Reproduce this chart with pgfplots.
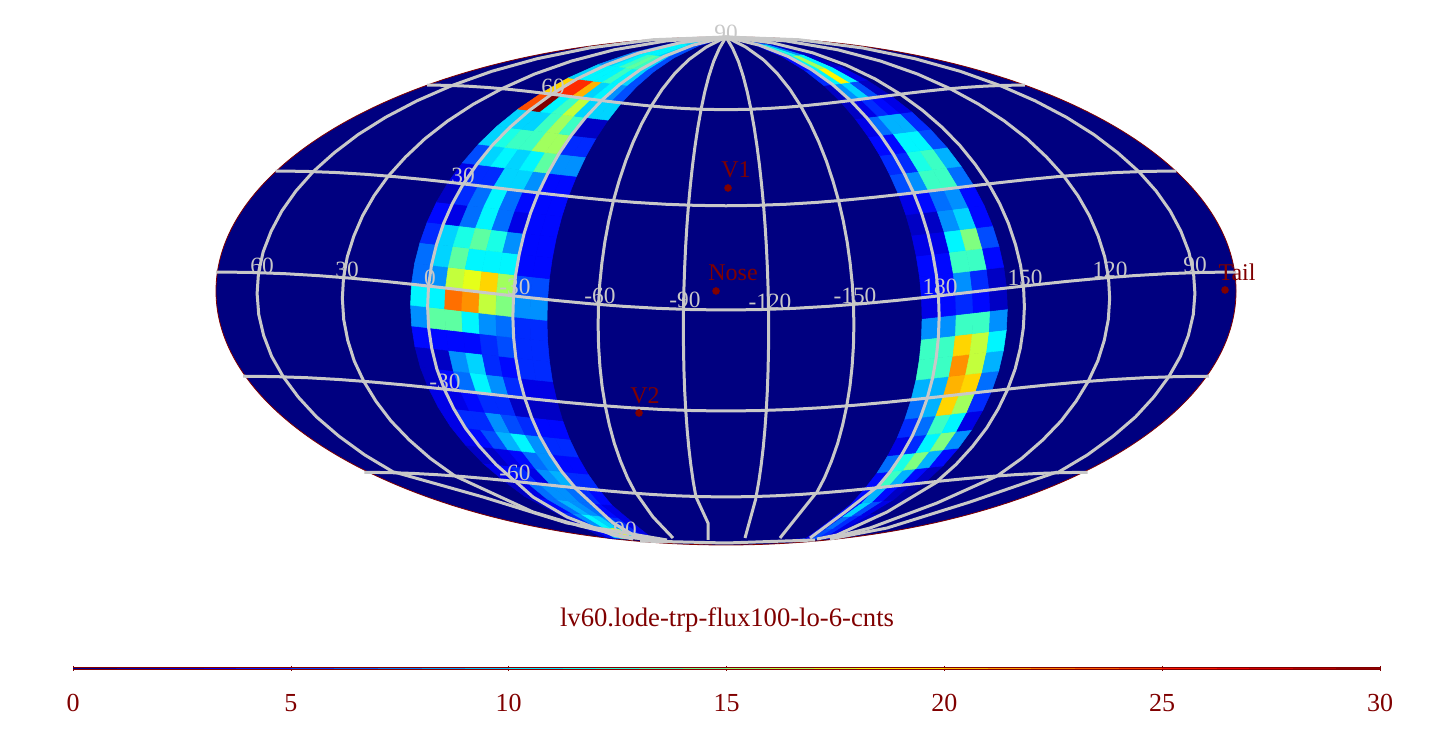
\documentclass[border=0pt]{standalone}
\usepackage{fontspec}
\setmainfont{Liberation Serif}
\usepackage{pgfplots}
\pgfplotsset{compat=1.18}
\usepackage{pgfplotstable}
\definecolor{navy}{RGB}{0,0,128}
\definecolor{dred}{RGB}{128,0,0}
\definecolor{gridc}{RGB}{200,200,200}
% projected latitude per 6 deg row, -90 to 90
\foreach \v [count=\i from 0] in {-.976,-.97233,-.9303,-.88015,-.82395,-.76231,-.697,-.62779,-.55565,-.48085,-.40397,-.32523,-.24516,-.16403,-.08219,0,.08219,.16403,.24516,.32523,.40397,.48085,.55565,.62779,.697,.76231,.82395,.88015,.9303,.97233,1}{\expandafter\xdef\csname sth\i\endcsname{\v}}
\foreach \v [count=\i from 0] in {0,.23362,.3668,.47471,.56668,.64721,.71707,.77837,.83141,.8768,.91477,.94564,.96948,.98645,.99662,1,.99662,.98645,.96948,.94564,.91477,.8768,.83141,.77837,.71707,.64721,.56668,.47471,.3668,.23362,0}{\expandafter\xdef\csname cth\i\endcsname{\v}}
\foreach \v [count=\i from 0] in {.36,.40,.47,.55,.64,.709,.773,.828,.876,.915,.947,.972,.989,.9995,1.003,1,.990,.973,.950,.920,.883,.838,.787,.728,.661,.586,.501,.404,.292,.156,0}{\expandafter\xdef\csname rth\i\endcsname{\v}}
\newcommand{\mapx}[2]{726+17*(#1)*(\csname rth#2\endcsname)}
\newcommand{\mapy}[2]{728-(291-254*(\csname sth#2\endcsname)+19*(\csname cth#2\endcsname)*cos(6*(#1)))}
\newcommand{\rowof}[1]{\the\numexpr(2*\coordindex-#1+1)/(2*#1)\relax}
\newcommand{\colof}[1]{\the\numexpr\coordindex-#1*((2*\coordindex-#1+1)/(2*#1))\relax}
\pgfplotstableread{
j lat
5 -60
6 -54
7 -48
8 -42
9 -36
10 -30
11 -24
12 -18
13 -12
14 -6
15 0
16 6
17 12
18 18
19 24
20 30
21 36
22 42
23 48
24 54
25 60
26 66
27 72
28 78
29 84
30 90
}\merrows
\pgfplotstableread{
k off
-30 -180
-28 -168
-26 -156
-24 -144
-22 -132
-20 -120
-18 -108
-16 -96
-14 -84
-12 -72
-10 -60
-8 -48
-6 -36
-4 -24
-2 -12
0 0
2 12
4 24
6 36
8 48
10 60
12 72
14 84
16 96
18 108
20 120
22 132
24 144
26 156
28 168
30 180
}\parrows
\newcommand{\meridian}[1]{\addplot[gridc,line width=2.25pt] table[x expr={\mapx{#1}{\the\numexpr\coordindex+5\relax}},y expr={\mapy{#1}{\the\numexpr\coordindex+5\relax}}] {\merrows};}
\newcommand{\parline}[1]{\addplot[gridc,line width=2.25pt] table[x expr={\mapx{\thisrow{k}}{#1}},y expr={\mapy{\thisrow{k}}{#1}}] {\parrows};}
\newcommand{\glab}[3]{\node[text=gridc,inner sep=0pt,font=\fontsize{17.5}{17.5}\selectfont] at (axis cs:#1,#2) {#3};}
\newcommand{\rlab}[3]{\node[text=dred,inner sep=0pt,font=\fontsize{18}{18}\selectfont] at (axis cs:#1,#2) {#3};}
\begin{document}
\begin{tikzpicture}
\useasboundingbox (0,0) rectangle (1089pt,546pt);
\begin{axis}[
    at={(0,0)},anchor=south west,
    width=1089pt,height=546pt,scale only axis,
    xmin=0,xmax=1452,ymin=0,ymax=728,
    hide axis,clip=false,
    colormap/jet,point meta min=0,point meta max=30,
]
\fill[navy] (axis cs:726,437) ellipse [x radius=510,y radius=254];
\draw[dred,line width=.6pt] (axis cs:726,437) ellipse [x radius=510,y radius=254];
% left band, 8 columns by 30 rows, south to north
\addplot[surf,shader=flat corner,mesh/cols=9,point meta=\thisrow{c}] table[row sep=\\,
    x expr={\mapx{-18.5+\colof{9}}{\rowof{9}}},
    y expr={\mapy{-18.5+\colof{9}}{\rowof{9}}}] {
c\\
2\\5\\12\\21\\21\\10\\5\\2\\0\\
2\\4\\10\\13\\18\\11\\5\\3\\0\\
2\\5\\8\\11\\10\\8\\5\\3\\0\\
2\\4\\7\\9\\8\\7\\4\\3\\0\\
2\\3\\7\\8\\8\\7\\5\\4\\0\\
3\\4\\5\\3\\8\\9\\5\\5\\0\\
2\\2\\3\\4\\7\\8\\4\\4\\0\\
3\\4\\6\\9\\11\\8\\5\\5\\0\\
3\\5\\5\\8\\6\\5\\4\\4\\0\\
3\\3\\4\\5\\5\\2\\2\\2\\0\\
2\\4\\7\\11\\8\\5\\3\\3\\0\\
2\\2\\8\\10\\5\\4\\5\\5\\0\\
4\\4\\4\\4\\5\\6\\5\\5\\0\\
8\\14\\14\\11\\8\\7\\5\\5\\0\\
11\\11\\23\\22\\17\\15\\8\\8\\0\\
7\\8\\17\\18\\20\\16\\6\\6\\0\\
7\\10\\14\\11\\11\\11\\4\\4\\0\\
5\\10\\12\\14\\12\\8\\4\\4\\0\\
4\\3\\7\\11\\7\\3\\4\\4\\0\\
2\\5\\7\\11\\7\\4\\4\\4\\0\\
3\\5\\5\\10\\10\\8\\4\\4\\0\\
6\\10\\11\\10\\11\\14\\8\\8\\0\\
10\\12\\13\\13\\16\\16\\5\\5\\0\\
10\\10\\10\\13\\16\\13\\2\\2\\0\\
24\\30\\11\\13\\17\\10\\10\\10\\0\\
20\\25\\25\\21\\10\\11\\8\\6\\0\\
10\\11\\11\\11\\13\\11\\10\\6\\0\\
8\\10\\11\\13\\14\\13\\10\\6\\0\\
7\\9\\11\\11\\11\\10\\8\\6\\0\\
6\\8\\9\\10\\10\\9\\8\\5\\0\\
0\\0\\0\\0\\0\\0\\0\\0\\0\\
};
% right band, 5 columns by 30 rows
\addplot[surf,shader=flat corner,mesh/cols=6,point meta=\thisrow{c}] table[row sep=\\,
    x expr={\mapx{11.5+\colof{6}}{\rowof{6}}},
    y expr={\mapy{11.5+\colof{6}}{\rowof{6}}}] {
c\\
3\\8\\10\\4\\2\\0\\
3\\6\\5\\3\\2\\0\\
3\\7\\5\\3\\2\\0\\
4\\10\\6\\3\\1\\0\\
4\\9\\4\\2\\1\\0\\
4\\13\\9\\4\\2\\0\\
7\\12\\15\\9\\4\\0\\
3\\5\\11\\15\\8\\0\\
5\\7\\13\\11\\3\\0\\
7\\9\\20\\16\\5\\0\\
9\\9\\21\\20\\7\\0\\
13\\13\\22\\17\\9\\0\\
13\\13\\20\\17\\11\\0\\
8\\8\\13\\13\\8\\0\\
3\\4\\5\\4\\2\\0\\
4\\4\\8\\5\\2\\0\\
4\\4\\13\\13\\4\\0\\
3\\3\\11\\15\\6\\0\\
2\\2\\8\\10\\4\\0\\
3\\4\\7\\8\\4\\0\\
6\\8\\13\\13\\7\\0\\
5\\5\\12\\13\\9\\0\\
4\\4\\11\\11\\6\\0\\
3\\7\\9\\9\\5\\0\\
2\\3\\5\\4\\3\\0\\
2\\8\\10\\6\\2\\0\\
5\\11\\19\\11\\3\\0\\
4\\11\\16\\11\\2\\0\\
3\\10\\12\\8\\2\\0\\
2\\8\\10\\6\\1\\0\\
0\\0\\0\\0\\0\\0\\
};
% meridians
\meridian{-27.5}\meridian{-22.5}\meridian{-17.5}\meridian{-12.5}\meridian{-7.5}\meridian{-2.5}
\meridian{2.5}\meridian{7.5}\meridian{12.5}\meridian{17.5}\meridian{22.5}\meridian{27.5}
% southern ends of the meridians, read off in pixels (y flipped)
\addplot[gridc,line width=2.25pt] coordinates {(394,256)(483,231)(567,205)(667,188)};
\addplot[gridc,line width=2.25pt] coordinates {(455,252)(533,216)(580,202)(627,191)(660,187)};
\addplot[gridc,line width=2.25pt] coordinates {(515,247)(533,231)(567,211)(613,193)(633,189)};
\addplot[gridc,line width=2.25pt] coordinates {(575,240)(613,205)(637,191)(653,190)};
\addplot[gridc,line width=2.25pt] coordinates {(636,235)(653,211)(673,190)};
\addplot[gridc,line width=2.25pt] coordinates {(696,231)(708,205)(708,188)};
\addplot[gridc,line width=2.25pt] coordinates {(756,230)(745,190)};
\addplot[gridc,line width=2.25pt] coordinates {(816,235)(800,215)(780,190)};
\addplot[gridc,line width=2.25pt] coordinates {(877,241)(845,216)(810,190)};
\addplot[gridc,line width=2.25pt] coordinates {(937,246)(887,216)(837,193)(817,189)};
\addplot[gridc,line width=2.25pt] coordinates {(997,252)(937,225)(870,200)(830,190)};
\addplot[gridc,line width=2.25pt] coordinates {(1057,256)(970,226)(887,200)(830,189)};
\addplot[gridc,line width=2.25pt] coordinates {(640,187)(726,185)(815,188)};
% parallels
\parline{5}\parline{10}\parline{15}\parline{20}\parline{25}
% grid labels
\glab{262}{462}{60}\glab{347}{458}{30}\glab{430}{450}{0}\glab{515}{441}{-30}\glab{600}{432}{-60}\glab{685}{428}{-90}
\glab{770}{426}{-120}\glab{855}{432}{-150}\glab{940}{441}{180}\glab{1025}{450}{150}\glab{1110}{458}{120}\glab{1195}{463}{90}
\glab{726}{695}{90}\glab{553}{641}{60}\glab{463}{552}{30}\glab{445}{346}{-30}\glab{515}{255}{-60}\glab{625}{198}{90}
% markers
\addplot[only marks,mark=*,mark size=2.6pt,dred] coordinates {(728,540)(716,437)(1225,438)(639,315)};
\rlab{736}{558}{V1}
\rlab{733}{455}{Nose}
\rlab{1237}{456}{Tail}
\rlab{645}{332}{V2}
\node[text=dred,inner sep=0pt,font=\fontsize{20}{20}\selectfont] at (axis cs:727,108) {lv60.lode-trp-flux100-lo-6-cnts};
\end{axis}
% colour bar
\begin{axis}[
    at={(54.75pt,43.9pt)},anchor=south west,
    width=980.25pt,height=1.6pt,scale only axis,
    xmin=0,xmax=30,ymin=0,ymax=1,
    clip=false,
    colormap/jet,point meta min=0,point meta max=30,
    xtick={0,5,...,30},ytick=\empty,
    axis line style={dred,line width=.4pt},
    every tick/.style={dred,line width=.5pt},
    major tick length=2pt,
    tick align=center,
    xticklabel style={text=dred,font=\fontsize{19.5}{19.5}\selectfont,yshift=-14pt},
    /pgf/number format/assume math mode=true,
]
\addplot[mesh,point meta=x,line width=1.2pt] coordinates {
(0,.5)(1,.5)(2,.5)(3,.5)(3.75,.5)(5,.5)(6,.5)(7,.5)(8,.5)(9,.5)(10,.5)(11.25,.5)(12,.5)(13,.5)(14,.5)(15,.5)(16,.5)(17,.5)(18,.5)(18.75,.5)(20,.5)(21,.5)(22,.5)(23,.5)(24,.5)(25,.5)(26.25,.5)(27,.5)(28,.5)(29,.5)(30,.5)};
\end{axis}
\end{tikzpicture}
\end{document}
